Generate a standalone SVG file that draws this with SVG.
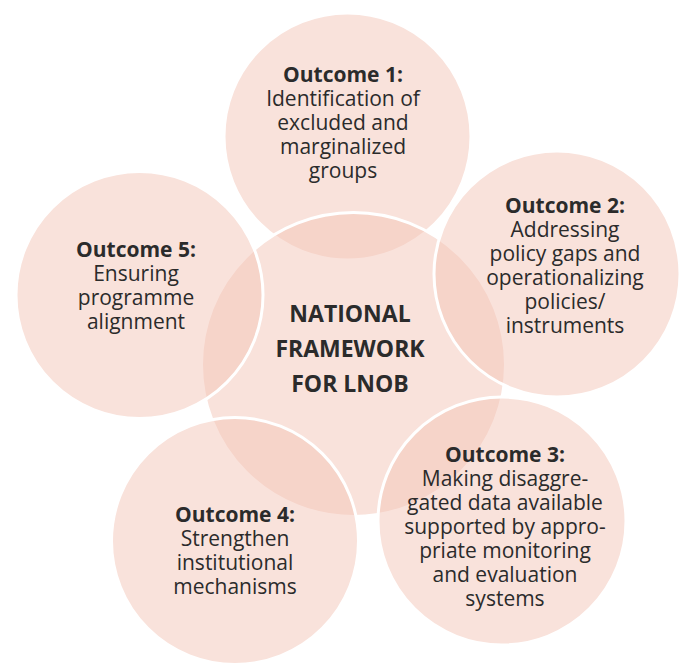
<svg xmlns="http://www.w3.org/2000/svg" width="683" height="664" viewBox="0 0 683 664">
<style>
.c{fill:#f4c5b8;fill-opacity:0.5;stroke:#ffffff;stroke-width:3}
.t{font-family:"Open Sans","Liberation Sans",sans-serif;font-size:21px;fill:#2b2b2b;text-anchor:middle}
.b{font-weight:700}
.m{font-family:"Open Sans","Liberation Sans",sans-serif;font-size:23px;font-weight:700;fill:#2b2b2b;text-anchor:middle}
</style>
<rect width="683" height="664" fill="#ffffff"/>
<g id="outcome1">
<circle class="c" cx="347.5" cy="136.5" r="123.5"/>
<text class="t" x="343"><tspan class="b" x="343" y="82">Outcome 1:</tspan><tspan x="343" y="106">Identification of</tspan><tspan x="343" y="130">excluded and</tspan><tspan x="343" y="154">marginalized</tspan><tspan x="343" y="178">groups</tspan></text>
</g>
<g id="center">
<circle class="c" cx="353.5" cy="364.5" r="152"/>
<text class="m"><tspan x="350" y="322">NATIONAL</tspan><tspan x="350" y="357">FRAMEWORK</tspan><tspan x="350" y="392">FOR LNOB</tspan></text>
</g>
<g id="outcome2">
<circle class="c" cx="557" cy="274" r="123"/>
<text class="t"><tspan class="b" x="565" y="213">Outcome 2:</tspan><tspan x="565" y="237">Addressing</tspan><tspan x="565" y="261">policy gaps and</tspan><tspan x="565" y="285">operationalizing</tspan><tspan x="565" y="309">policies/</tspan><tspan x="565" y="333">instruments</tspan></text>
</g>
<g id="outcome3">
<circle class="c" cx="502" cy="521" r="124"/>
<text class="t"><tspan class="b" x="505" y="462">Outcome 3:</tspan><tspan x="505" y="486">Making disaggre-</tspan><tspan x="505" y="510">gated data available</tspan><tspan x="505" y="534">supported by appro-</tspan><tspan x="505" y="558">priate monitoring</tspan><tspan x="505" y="582">and evaluation</tspan><tspan x="505" y="606">systems</tspan></text>
</g>
<g id="outcome4">
<circle class="c" cx="235" cy="541" r="123.5"/>
<text class="t"><tspan class="b" x="235" y="522">Outcome 4:</tspan><tspan x="235" y="546">Strengthen</tspan><tspan x="235" y="570">institutional</tspan><tspan x="235" y="594">mechanisms</tspan></text>
</g>
<g id="outcome5">
<circle class="c" cx="139.5" cy="295" r="123.5"/>
<text class="t"><tspan class="b" x="136" y="257">Outcome 5:</tspan><tspan x="136" y="281">Ensuring</tspan><tspan x="136" y="305">programme</tspan><tspan x="136" y="329">alignment</tspan></text>
</g>
<g id="connectors"/>
</svg>
